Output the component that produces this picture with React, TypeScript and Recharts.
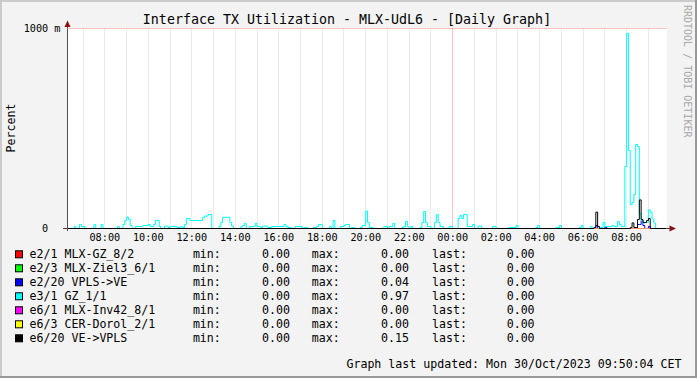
import React from 'react';
import { LineChart, Line, XAxis, YAxis, CartesianGrid, ReferenceLine } from 'recharts';

const TITLE = 'Interface TX Utilization - MLX-UdL6 - [Daily Graph]';
const Y_LABEL = 'Percent';
const WATERMARK = 'RRDTOOL / TOBI OETIKER';
const UPDATED = 'Graph last updated: Mon 30/Oct/2023 09:50:04 CET';

// time axis in minutes since 00:00 on 29/Oct (values > 1440 belong to 30/Oct)
const X_DOMAIN: [number, number] = [377, 2030];
const X_TICKS = [420, 480, 540, 600, 660, 720, 780, 840, 900, 960, 1020, 1080, 1140, 1200, 1260, 1320, 1380, 1440, 1500, 1560, 1620, 1680, 1740, 1800, 1860, 1920, 1980];
const X_TICK_LABELS = ['', '08:00', '', '10:00', '', '12:00', '', '14:00', '', '16:00', '', '18:00', '', '20:00', '', '22:00', '', '00:00', '', '02:00', '', '04:00', '', '06:00', '', '08:00', ''];
const DAY_BOUNDARY = 1440;

const Y_TICKS = [0, 1];
const Y_TICK_LABELS = ['0  ', '1000 m'];

// [minute, value] step samples
const e2_1: [number, number][] = [[377, 0], [2030, 0]];
const e2_3: [number, number][] = [[377, 0], [2030, 0]];
const e2_20: [number, number][] = [[377, 0], [1835, 0.015], [1840, 0], [1860, 0.007], [1865, 0], [1950, 0.02], [1955, 0.02], [1960, 0.04], [1965, 0.015], [1970, 0], [1980, 0.01], [1985, 0], [2030, 0]];
const e3_1: [number, number][] = [
  [377, 0], [395, 0.01], [400, 0], [410, 0.02], [415, 0.01], [425, 0], [450, 0.02], [455, 0], [470, 0.02], [475, 0],
  [515, 0.01], [520, 0], [530, 0.02], [535, 0.04], [540, 0.057], [545, 0.045], [550, 0.015], [555, 0], [565, 0.01], [585, 0.015],
  [600, 0.02], [605, 0.01], [615, 0.02], [620, 0.04], [630, 0.01], [635, 0], [645, 0.012], [655, 0.005], [660, 0.01], [680, 0.005],
  [690, 0.01], [695, 0.005], [700, 0.02], [705, 0.05], [715, 0.04], [750, 0.055], [755, 0.062], [765, 0.07], [775, 0], [795, 0.01],
  [800, 0.03], [805, 0.056], [825, 0.03], [830, 0.012], [835, 0], [855, 0.008], [860, 0.015], [865, 0.025], [870, 0], [880, 0.01],
  [895, 0.025], [900, 0.01], [910, 0.005], [915, 0.012], [930, 0.005], [940, 0.01], [975, 0.02], [980, 0.01], [985, 0.005], [995, 0],
  [1005, 0.01], [1025, 0], [1030, 0.005], [1040, 0], [1055, 0.005], [1065, 0.01], [1070, 0.02], [1080, 0], [1100, 0.01], [1105, 0],
  [1110, 0.04], [1115, 0], [1130, 0.01], [1140, 0.015], [1145, 0.02], [1155, 0], [1160, 0.005], [1170, 0], [1185, 0.005], [1190, 0.015],
  [1200, 0.087], [1205, 0.03], [1210, 0.005], [1220, 0], [1250, 0.01], [1260, 0], [1265, 0.01], [1275, 0.025], [1280, 0], [1300, 0.005],
  [1305, 0.01], [1310, 0.035], [1315, 0.01], [1320, 0], [1325, 0.01], [1330, 0], [1350, 0.005], [1355, 0.03], [1360, 0.085], [1365, 0.03],
  [1370, 0.01], [1380, 0], [1390, 0.03], [1395, 0.07], [1400, 0.03], [1405, 0.01], [1415, 0], [1430, 0.01], [1440, 0], [1455, 0.05],
  [1460, 0.065], [1465, 0.05], [1470, 0.07], [1480, 0.01], [1495, 0.02], [1500, 0], [1510, 0.012], [1520, 0], [1550, 0.01], [1560, 0],
  [1595, 0.005], [1615, 0.015], [1620, 0], [1670, 0.005], [1675, 0.015], [1680, 0], [1725, 0.005], [1735, 0.015], [1740, 0], [1790, 0.005],
  [1795, 0.015], [1800, 0], [1820, 0.01], [1825, 0], [1845, 0.005], [1855, 0.03], [1860, 0.01], [1880, 0.015], [1885, 0.01], [1895, 0.035],
  [1900, 0.02], [1905, 0.01], [1915, 0.31], [1920, 0.975], [1925, 0.39], [1930, 0.12], [1935, 0.13], [1940, 0.17], [1945, 0.42], [1950, 0.41],
  [1955, 0.075], [1960, 0.04], [1965, 0.027], [1970, 0.03], [1980, 0.093], [1985, 0.08], [1990, 0.048], [1995, 0.027], [2000, 0], [2030, 0],
];
const e6_1: [number, number][] = [[377, 0], [2030, 0]];
const e6_3: [number, number][] = [[377, 0], [2030, 0]];
const e6_20: [number, number][] = [[377, 0], [1830, 0.005], [1835, 0.082], [1840, 0.01], [1845, 0], [1930, 0.005], [1935, 0.028], [1940, 0.005], [1950, 0.045], [1955, 0.143], [1960, 0.045], [1965, 0.03], [1975, 0.04], [1980, 0.05], [1985, 0], [2030, 0]];

const SERIES_DATA = [e2_1, e2_3, e2_20, e3_1, e6_1, e6_3, e6_20];
const SERIES_NAMES = ['e2/1 MLX-GZ_8/2', 'e2/3 MLX-Ziel3_6/1', 'e2/20 VPLS->VE', 'e3/1 GZ_1/1', 'e6/1 MLX-Inv42_8/1', 'e6/3 CER-Dorol_2/1', 'e6/20 VE->VPLS'];
const SERIES_COLORS = ['#FF0000', '#00FF00', '#0000FF', '#00FFFF', '#FF00FF', '#FFFF00', '#000000'];
const SERIES_LINE_OPACITY = [1, 1, 1, 1, 1, 0.55, 1];
const SERIES_MIN = ['0.00', '0.00', '0.00', '0.00', '0.00', '0.00', '0.00'];
const SERIES_MAX = ['0.00', '0.00', '0.04', '0.97', '0.00', '0.00', '0.15'];
const SERIES_LAST = ['0.00', '0.00', '0.00', '0.00', '0.00', '0.00', '0.00'];

const MONO = "'DejaVu Sans Mono', monospace";

const XTick = (p: any) => {
  const i = X_TICKS.indexOf(p.payload.value);
  const lbl = i >= 0 ? X_TICK_LABELS[i] : '';
  return (
    <text x={p.x} y={p.y} dy={12.5} textAnchor="middle" fontFamily={MONO} fontSize={10.2} fill="#000">{lbl}</text>
  );
};

const YTick = (p: any) => {
  const i = Y_TICKS.indexOf(p.payload.value);
  const lbl = i >= 0 ? Y_TICK_LABELS[i] : '';
  return (
    <text x={p.x} y={p.y} dy={3.6} textAnchor="end" fontFamily={MONO} fontSize={10.2} fill="#000" style={{ whiteSpace: 'pre' }}>{lbl}</text>
  );
};

const snap = (v: number) => Math.floor(v) + 0.5;

const makeGen = (ticks: number[]) => (props: any) => {
  const off = props.offset || {};
  const xa = props.xAxis;
  return ticks.map((t) => {
    const pos = xa && typeof xa.scale === 'function'
      ? xa.scale(t)
      : off.left + ((t - X_DOMAIN[0]) / (X_DOMAIN[1] - X_DOMAIN[0])) * off.width;
    return snap(pos);
  });
};

const minorGen = makeGen(X_TICKS.filter((t) => t !== DAY_BOUNDARY));
const majorGen = makeGen([DAY_BOUNDARY]);

export default function App() {
  const legendFont = 11.6;
  return (
    <div style={{ position: 'absolute', left: 0, top: 0, width: 697, height: 378, background: '#f3f3f3', overflow: 'hidden' }}>
      <svg width={697} height={378} style={{ position: 'absolute', left: 0, top: 0 }}>
        <rect x={0} y={0} width={697} height={2} fill="#cbcbcb" />
        <rect x={0} y={0} width={2} height={378} fill="#cbcbcb" />
        <rect x={0} y={376} width={697} height={2} fill="#999999" />
        <rect x={695} y={0} width={2} height={378} fill="#999999" />
        <rect x={67} y={28} width={600} height={201} fill="#ffffff" />
        <line x1={67.5} y1={231} x2={67.5} y2={25} stroke="#505050" strokeWidth={1} />
        <line x1={63} y1={228.5} x2={671} y2={228.5} stroke="#404040" strokeWidth={1} />
        <polygon points="67.5,20.5 64.5,27 70.5,27" fill="#8b1010" />
        <polygon points="676,228.5 669.5,225.5 669.5,231.5" fill="#8b1010" />
        <text x={347} y={23.5} textAnchor="middle" fontFamily={MONO} fontSize={13.3} fill="#000">{TITLE}</text>
        <text transform="translate(15,128) rotate(-90)" textAnchor="middle" fontFamily={MONO} fontSize={legendFont} fill="#000">{Y_LABEL}</text>
        <text transform="translate(684,5) rotate(90)" textAnchor="start" fontFamily={MONO} fontSize={10} fill="#a8a8a8">{WATERMARK}</text>
        {SERIES_NAMES.map((name, i) => {
          const cy = 254.3 + i * 14;
          const by = cy + 4.1;
          return (
            <g key={name}>
              <rect x={15.5} y={cy - 3.5} width={7} height={7} fill={SERIES_COLORS[i]} stroke="#000" strokeWidth={1} />
              <text x={29.6} y={by} fontFamily={MONO} fontSize={legendFont} fill="#000" style={{ whiteSpace: 'pre' }}>{name}</text>
              <text x={192.9} y={by} fontFamily={MONO} fontSize={legendFont} fill="#000">min:</text>
              <text x={290} y={by} textAnchor="end" fontFamily={MONO} fontSize={legendFont} fill="#000">{SERIES_MIN[i]}</text>
              <text x={311.8} y={by} fontFamily={MONO} fontSize={legendFont} fill="#000">max:</text>
              <text x={409} y={by} textAnchor="end" fontFamily={MONO} fontSize={legendFont} fill="#000">{SERIES_MAX[i]}</text>
              <text x={432} y={by} fontFamily={MONO} fontSize={legendFont} fill="#000">last:</text>
              <text x={534.6} y={by} textAnchor="end" fontFamily={MONO} fontSize={legendFont} fill="#000">{SERIES_LAST[i]}</text>
            </g>
          );
        })}
        <text x={681.5} y={368} textAnchor="end" fontFamily={MONO} fontSize={legendFont} fill="#000">{UPDATED}</text>
      </svg>
      <div style={{ position: 'absolute', left: 0, top: 0 }}>
        <LineChart width={697} height={378} margin={{ top: 28.5, right: 30.5, bottom: 129.5, left: 7.5 }}>
          <CartesianGrid horizontal={false} vertical={true} stroke="#d6d6d6" strokeDasharray="1 1" verticalCoordinatesGenerator={minorGen} />
          <CartesianGrid horizontal={false} vertical={true} stroke="#f88080" strokeDasharray="1 1" verticalCoordinatesGenerator={majorGen} />
          <XAxis
            type="number"
            dataKey="t"
            domain={X_DOMAIN}
            allowDataOverflow
            ticks={X_TICKS}
            interval={0}
            tick={<XTick />}
            tickLine={false}
            axisLine={false}
            tickSize={0}
            tickMargin={0}
            height={20}
          />
          <YAxis
            type="number"
            domain={[0, 1]}
            ticks={Y_TICKS}
            tick={<YTick />}
            tickLine={false}
            axisLine={false}
            tickSize={0}
            tickMargin={7}
            width={60}
          />
          <ReferenceLine y={1} stroke="#f88080" strokeDasharray="1 1" />
          {SERIES_DATA.map((d, i) => (
            <Line
              key={SERIES_NAMES[i]}
              data={d.map(([t, v]) => ({ t, v }))}
              dataKey="v"
              type="stepAfter"
              stroke={SERIES_COLORS[i]}
              strokeOpacity={SERIES_LINE_OPACITY[i]}
              strokeWidth={1}
              dot={false}
              activeDot={false}
              isAnimationActive={false}
            />
          ))}
        </LineChart>
      </div>
    </div>
  );
}
